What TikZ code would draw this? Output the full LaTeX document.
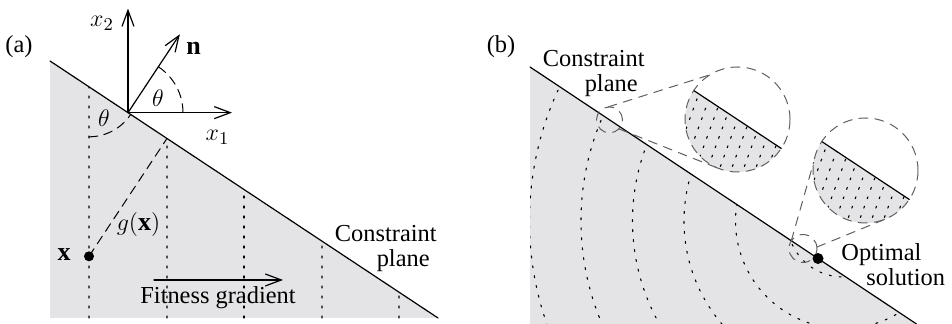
\documentclass[tikz,border=0pt]{standalone}
\usepackage{fontspec}
\setmainfont{Liberation Serif}
\usetikzlibrary{calc,arrows.meta}
\definecolor{shadegray}{RGB}{228,228,230}
\definecolor{lensgray}{RGB}{95,95,95}

\begin{document}
\begin{tikzpicture}[x=0.5pt, y=0.5pt, line cap=round, line join=round,
  plane/.style={line width=0.6pt},
  axis/.style={line width=0.6pt, -{Straight Barb[length=8pt,width=6pt]}},
  dotline/.style={line width=0.55pt, dash pattern=on 1pt off 4pt},
  dashline/.style={line width=0.5pt, dash pattern=on 4.5pt off 3pt},
  lens/.style={lensgray, line width=0.5pt, dash pattern=on 4.5pt off 3.5pt},
  txt/.style={font=\fontsize{12.2}{12.5}\selectfont, inner sep=0pt},
  mth/.style={font=\fontsize{13}{15}\selectfont, inner sep=0pt}]
  \useasboundingbox (0,0) rectangle (952,324);

  % --- (a): plane, axes and normal ---
  \coordinate (aA) at (50,263);
  \coordinate (aB) at (438,6);
  \coordinate (O) at ($(aA)!0.2010!(aB)$);
  \coordinate (ta) at ($(aA)!0.1005!(aB)$);
  \coordinate (tb) at ($(aA)!0.3015!(aB)$);
  \coordinate (X) at ($(tb)+(236.5:141.3)$);
  \coordinate (fs) at (154,44);
  \coordinate (fe) at (283,44);

  \fill[shadegray] (aA) -- (aB) -- (50,6) -- cycle;
  \foreach \x in {89,167,244,322,399} {
    \pgfmathsetmacro\t{(\x-50)/388}
    \draw[dotline] (\x,6) -- ($(aA)!\t!(aB)$);
  }
  \draw[dashline] ($(ta)+(270:50)$) arc[start angle=270, end angle=326.5, radius=50];
  \draw[axis] (O) -- ++(0,104);
  \draw[axis] (O) -- ++(104,0);
  \draw[axis] (O) -- ++(56.5:94);
  \draw[dashline] ($(O)+(55,0)$) arc[start angle=0, end angle=56.5, radius=55];
  \draw[plane] (aA) -- (aB);
  \draw[dashline] (X) -- (tb);
  \fill (X) circle (5);
  \draw[axis] (fs) -- (fe);

  % --- (a): labels ---
  \node[txt] (la) at (19,277) {(a)};
  \node[mth] (lx2) at (102,300.5) {$x_2$};
  \node[mth] (lx1) at (217.5,186.5) {$x_1$};
  \node[mth] (ln) at (193.5,276) {$\mathbf{n}$};
  \node[mth] (lth1) at (158,226) {$\theta$};
  \node[mth] (lth2) at (104,206) {$\theta$};
  \node[mth] (lx) at (64,69) {$\mathbf{x}$};
  \node[mth] (lg) at (138.5,99) {$g(\mathbf{x})$};
  \node[txt] (lfit) at (218,26.5) {Fitness gradient};
  \node[txt, align=right, anchor=east] (lcpa) at (437,75.5) {Constraint\\plane\hspace*{3.5pt}};

  % --- (b): plane and fitness contours ---
  \coordinate (bA) at (530,257);
  \coordinate (bB) at (916.5,0);
  \coordinate (C) at (843,103);
  \coordinate (opt) at ($(bA)!(C)!(bB)$);
  \coordinate (s1) at ($(bA)!0.2057!(bB)$);
  \coordinate (s2) at ($(bA)!0.7063!(bB)$);
  \coordinate (m1) at (737.5,204.5);
  \coordinate (m2) at (865.5,153.5);

  \fill[shadegray] (bA) -- (bB) -- (530,0) -- cycle;
  \begin{scope}
    \clip (bA) -- (bB) -- (530,0) -- cycle;
    \foreach \r in {56,107.5,159,210.5,262,313.5}
      \draw[dotline] (C) circle (\r);
  \end{scope}
  \draw[plane] (bA) -- (bB);

  % --- (b): magnified views ---
  \foreach \m in {m1,m2} {
    \fill[shadegray] ($(\m)+(146.5:52.5)$) arc[start angle=146.5, end angle=326.5, radius=52.5] -- cycle;
    \begin{scope}
      \clip ($(\m)+(146.5:52.5)$) arc[start angle=146.5, end angle=326.5, radius=52.5] -- cycle;
      \foreach \k in {-7,...,7}
        \draw[dotline] ($(\m)+(\k*12,0)+(250:70)$) -- ++(70:140);
    \end{scope}
    \draw[plane] ($(\m)+(146.5:52.5)$) -- ($(\m)+(-33.5:52.5)$);
    \draw[lens] (\m) circle (52.5);
  }
  \draw[lens] (s1) circle (13);
  \draw[lens] ($(s1)+(96:13)$) -- ($(m1)+(121.7:52.5)$);
  \draw[lens] ($(s1)+(-44:13)$) -- ($(m1)+(-113:52.5)$);
  \draw[lens] (s2) circle (14);
  \draw[lens] ($(s2)+(147:14)$) -- ($(m2)+(171:52.5)$);
  \draw[lens] ($(s2)+(6:14)$) -- ($(m2)+(-66.5:52.5)$);
  \fill (opt) circle (5.5);

  % --- (b): labels ---
  \node[txt] (lb) at (501,277) {(b)};
  \node[txt, align=right, anchor=east] (lcpb) at (645,250.5) {Constraint\\plane\hspace*{3.5pt}};
  \node[txt, align=left, anchor=west] (lopt) at (841,59) {Optimal\\\hspace*{12.5pt}solution};
\end{tikzpicture}
\end{document}
